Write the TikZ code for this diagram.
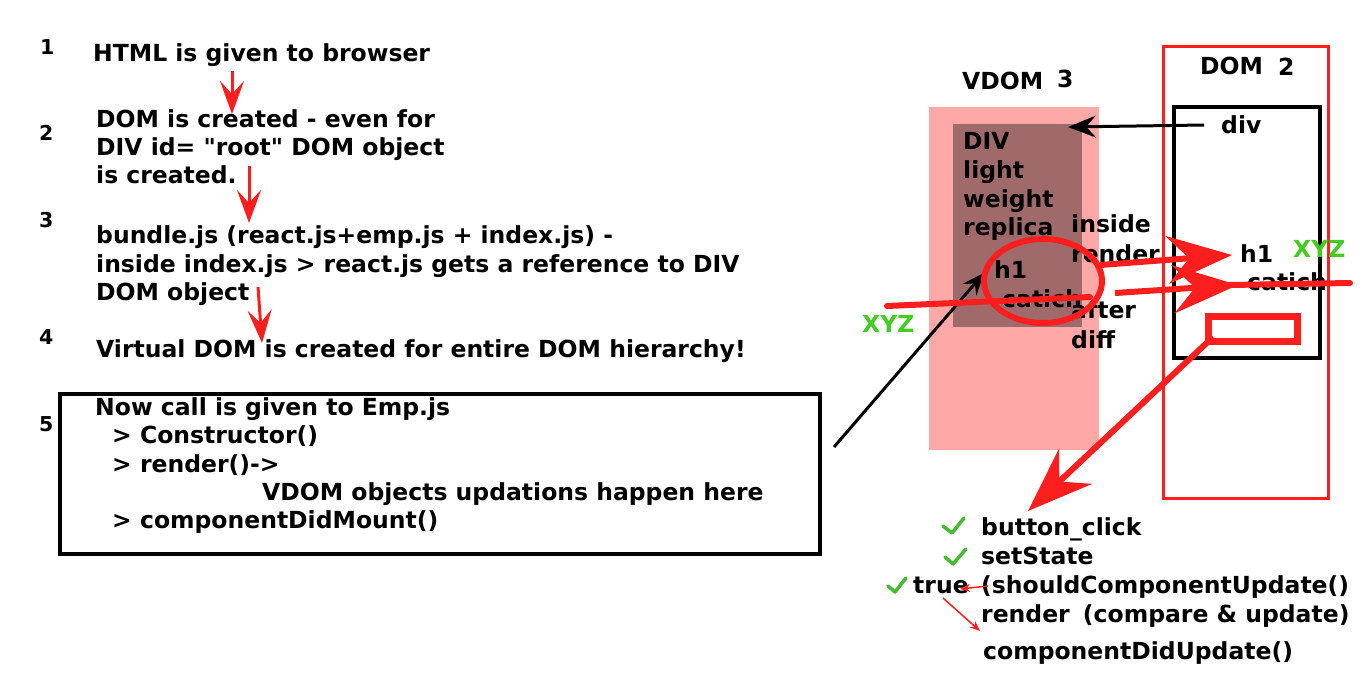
\documentclass[tikz,border=0pt]{standalone}
\usepackage{fontspec}
\setmainfont{DejaVu Sans}
\usetikzlibrary{arrows.meta}
\definecolor{rd}{HTML}{FF1E1E}
\definecolor{pinkbg}{HTML}{FFA8A8}
\definecolor{darkbg}{HTML}{A06A6A}
\definecolor{grn}{HTML}{44CC22}
\definecolor{chk}{HTML}{44BB33}
\begin{document}
\begin{tikzpicture}[x=1pt,y=-1pt,
  txt/.style={anchor=base west, inner sep=0pt, font=\bfseries\fontsize{23.5}{28}\selectfont},
  num/.style={anchor=base west, inner sep=0pt, font=\bfseries\fontsize{20.5}{24}\selectfont},
  gtxt/.style={txt, text=grn},
  redflow/.style={rd, line width=3pt, -{Stealth[length=33pt,width=24pt,inset=13pt]}},
  bigred/.style={rd, line width=6pt, -{Stealth[length=65pt,width=48pt,inset=22pt]}},
  thinred/.style={rd, line width=1.5pt, -{Stealth[length=10pt,width=8pt,inset=3pt]}},
  blackarrow/.style={black, line width=3pt, -{Stealth[length=28pt,width=22pt,inset=10pt]}},
  checkmark/.style={chk, line width=3.5pt, line cap=round, line join=round}]
\useasboundingbox (0,0) rectangle (1366,697);
\fill[white] (0,0) rectangle (1366,697);

% ---------- left column ----------
\node[num] (n1) at (40,54) {1};
\node[num] (n2) at (39,140) {2};
\node[num] (n3) at (39,227) {3};
\node[num] (n4) at (39,344) {4};
\node[num] (n5) at (39,431) {5};

\node[txt] (t1) at (93,61) {HTML is given to browser};
\node[txt] (t2a) at (96,127) {DOM is created - even for};
\node[txt] (t2b) at (96,155) {DIV id= \textquotedbl root\textquotedbl\ DOM object};
\node[txt] (t2c) at (96,183) {is created.};
\node[txt] (t3a) at (96,243) {bundle.js (react.js+emp.js + index.js) -};
\node[txt] (t3b) at (96,272) {inside index.js > react.js gets a reference to DIV};
\node[txt] (t3c) at (96,300) {DOM object};
\node[txt] (t4) at (96,357) {Virtual DOM is created for entire DOM hierarchy!};

\coordinate (a1s) at (232,71);  \coordinate (a1e) at (232,114);
\coordinate (a2s) at (249,166); \coordinate (a2e) at (249,223);
\coordinate (a3s) at (258,287); \coordinate (a3e) at (262,343);
\draw[redflow] (a1s) -- (a1e);
\draw[redflow] (a2s) -- (a2e);
\draw[redflow] (a3s) -- (a3e);

\node[draw, line width=4pt, minimum width=760pt, minimum height=160pt, inner sep=0pt] (box) at (440,474) {};
\node[txt] (b1) at (95,415) {Now call is given to Emp.js};
\node[txt] (b2) at (112,443) {> Constructor()};
\node[txt] (b3) at (112,472) {> render()->};
\node[txt] (b4) at (262,500) {VDOM objects updations happen here};
\node[txt] (b5) at (112,528) {> componentDidMount()};

% ---------- VDOM ----------
\node[txt] (vdom) at (962,89) {VDOM};
\node[txt] (v3) at (1057,87) {3};
\node[fill=pinkbg, minimum width=170pt, minimum height=343pt, inner sep=0pt] (pink) at (1014,278.5) {};
\node[fill=darkbg, minimum width=129pt, minimum height=203pt, inner sep=0pt] (dark) at (1017.5,225.5) {};
\node[txt] (vd1) at (963,149) {DIV};
\node[txt] (vd2) at (963,178) {light};
\node[txt] (vd3) at (963,207) {weight};
\node[txt] (vd4) at (963,235) {replica};
\node[txt] (vh1) at (994,278) {h1};
\node[txt] (vcat) at (1002,307) {catich};
\node[txt] (ins1) at (1071,232) {inside};
\node[txt] (ins2) at (1071,262) {render};
\node[txt] (aft1) at (1071,318) {after};
\node[txt] (aft2) at (1071,348) {diff};

% ---------- DOM ----------
\node[txt] (dom) at (1200,74) {DOM};
\node[txt] (d2) at (1278,75) {2};
\node[draw=rd, line width=3pt, minimum width=165pt, minimum height=452pt, inner sep=0pt] (domout) at (1246,272.5) {};
\node[draw=black, line width=3.5pt, minimum width=146pt, minimum height=251pt, inner sep=0pt] (domin) at (1247,232.5) {};
\node[txt] (div) at (1221,133) {div};
\node[txt] (dh1) at (1240,262) {h1};
\node[txt] (dcat) at (1247,290) {catich};
\node[gtxt] (xyzr) at (1293,257) {XYZ};
\node[gtxt] (xyzl) at (862,332) {XYZ};
\node[draw=rd, line width=7pt, minimum width=89pt, minimum height=25pt, inner sep=0pt] (sel) at (1253,329) {};

% black arrows
\coordinate (divs) at (1204,125);
\coordinate (dive) at (1068,127);
\draw[blackarrow] (divs) -- (dive);
\coordinate (bx) at (834,447);
\coordinate (bxe) at (984,273);
\draw[black, line width=3pt, -{Stealth[length=22pt,width=18pt,inset=8pt]}] (bx) -- (bxe);

% red marks
\draw[rd, line width=6pt] (1043,281) ellipse [x radius=59, y radius=42];
\coordinate (xl1) at (887,306); \coordinate (xl2) at (1090,297);
\draw[rd, line width=6pt, line cap=round] (xl1) -- (xl2);
\coordinate (r1s) at (1100,265); \coordinate (r1e) at (1232,255);
\draw[bigred] (r1s) -- (r1e);
\coordinate (r2s) at (1115,293); \coordinate (r2e) at (1238,285);
\coordinate (r2x) at (1350,283);
\draw[rd, line width=6pt, line cap=round] (1200,285.5) -- (r2x);
\draw[bigred] (r2s) -- (r2e);
\coordinate (s1) at (1213,337); \coordinate (s2) at (1028,511);
\draw[bigred] (s1) -- (s2);

% ---------- bottom list ----------
\node[txt] (l1) at (981,535) {button\_click};
\node[txt] (l2) at (981,564) {setState};
\node[txt] (l3) at (981,593) {(shouldComponentUpdate()};
\node[txt] (ltrue) at (913,593) {true};
\node[txt] (l4) at (981,622) {render\hspace{5pt} (compare \& update)};
\node[txt] (l5) at (983,659) {componentDidUpdate()};

\draw[checkmark] (943,526) -- (952,533) -- (964,518);
\draw[checkmark] (945,557) -- (953,564) -- (966,549);
\draw[checkmark] (888,586) -- (895,592) -- (906,578);

\coordinate (sa1) at (988,586); \coordinate (sa2) at (960,589);
\draw[thinred] (sa1) -- (sa2);
\coordinate (sb1) at (943,598); \coordinate (sb2) at (980,631);
\draw[thinred] (sb1) -- (sb2);
\end{tikzpicture}
\end{document}
